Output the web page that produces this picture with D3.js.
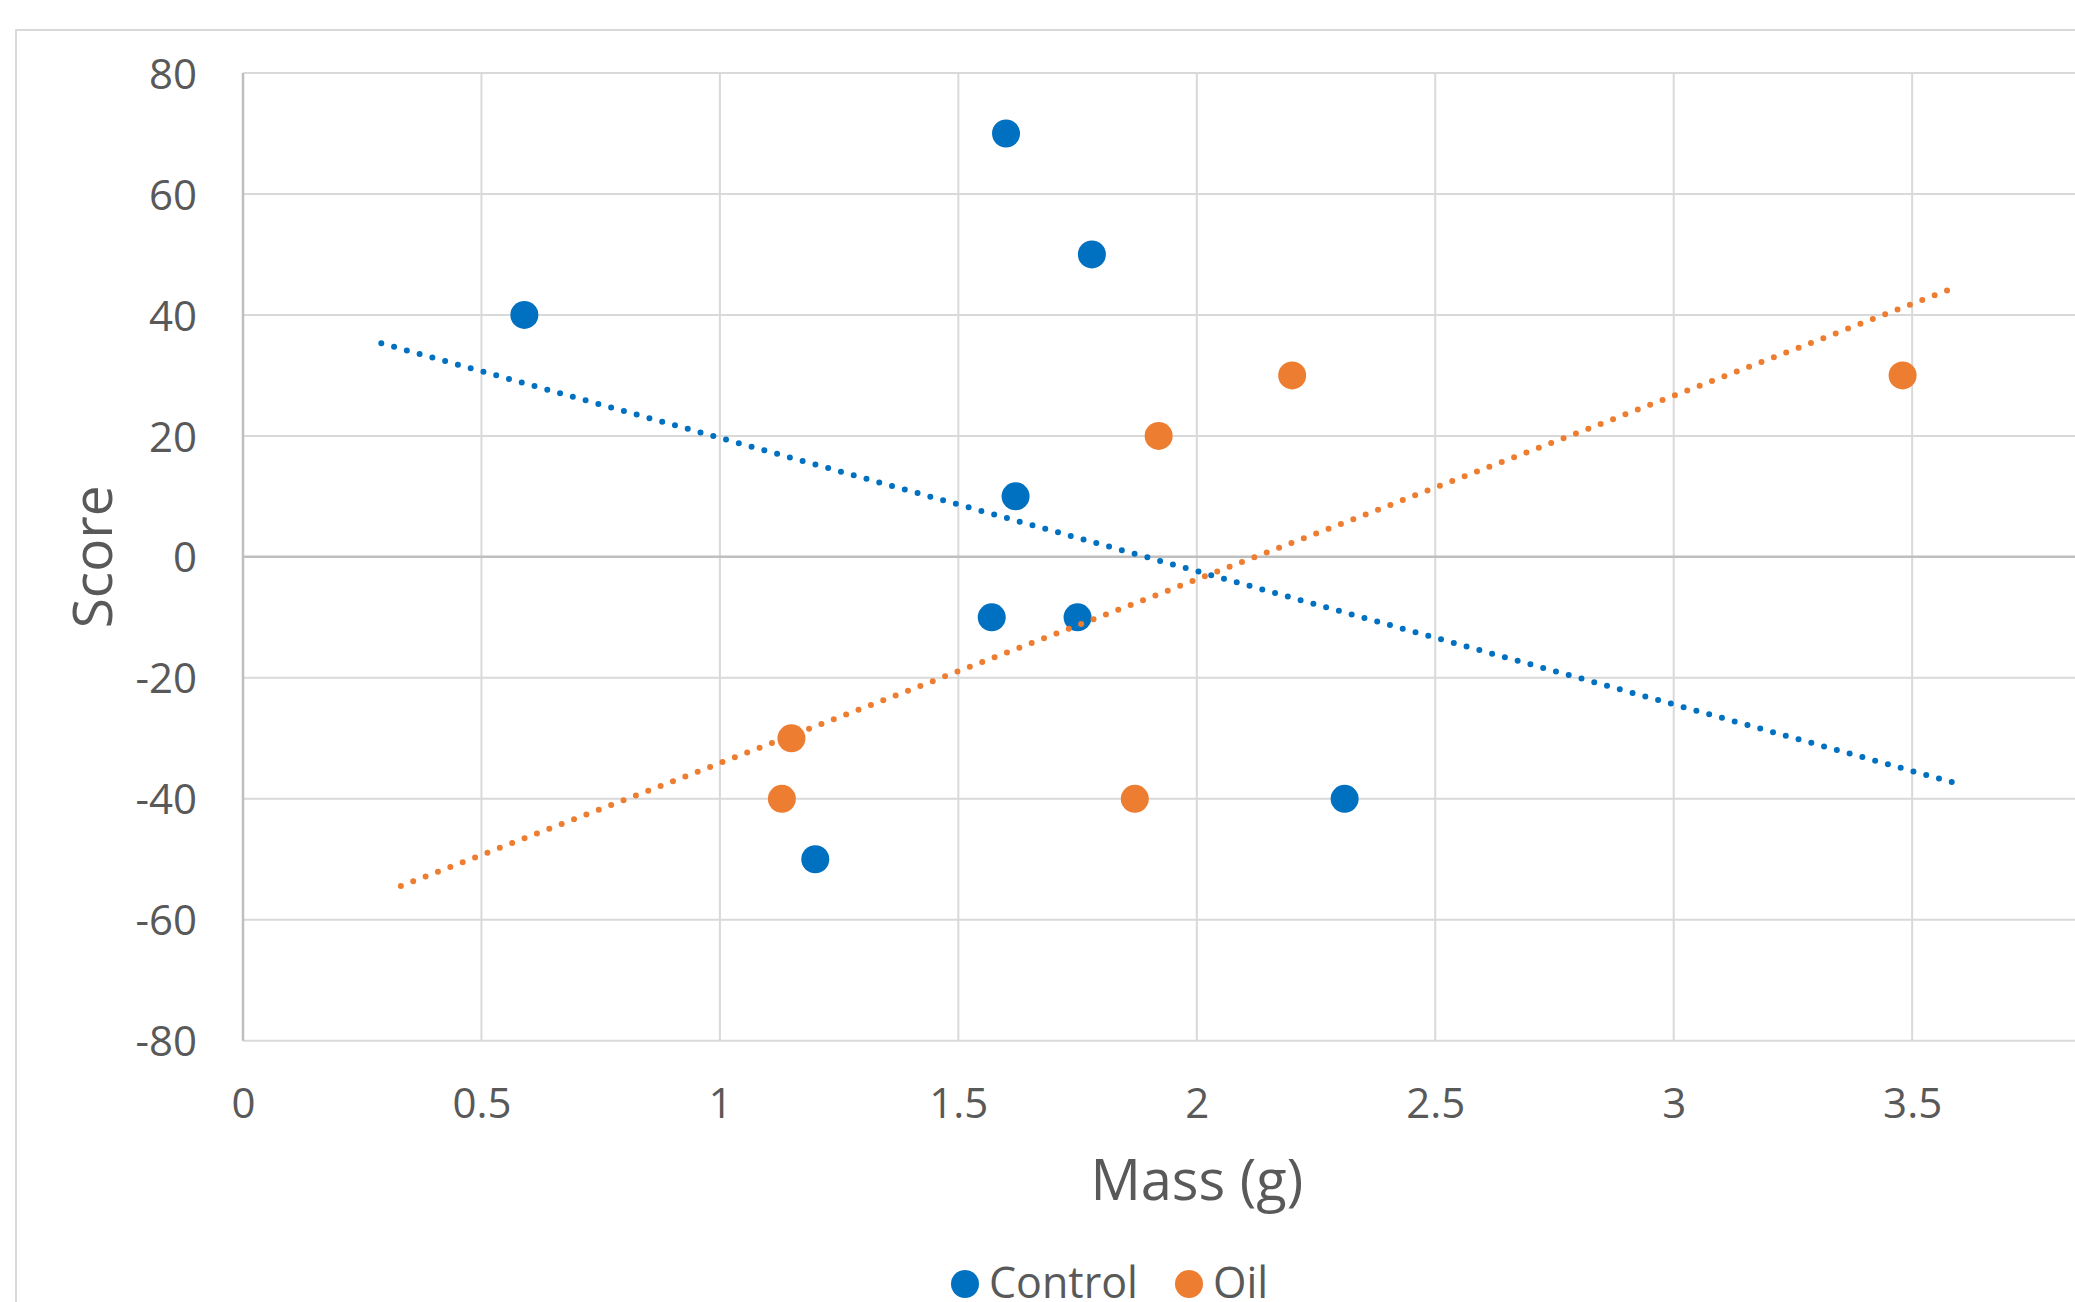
<!DOCTYPE html>
<html>
    <head>
        <meta charset="UTF-8">
        <title>Score vs Mass</title>
        <style type="text/css">
            body {
                margin: 0;
                background: #ffffff;
                font-family: "Open Sans", sans-serif;
                overflow: hidden;
            }
            .tick text {
                fill: #595959;
            }
        </style>
        <script src="https://d3js.org/d3.v7.min.js"></script>
    </head>
    <body>
        <div id="chart"></div>
        <script>
            // values
            const control_mass = [0.59, 1.60, 1.78, 1.62, 1.57, 1.75, 1.20, 2.31];
            const control_score = [40, 70, 50, 10, -10, -10, -50, -40];
            const oil_mass = [1.15, 1.13, 1.87, 1.92, 2.20, 3.48];
            const oil_score = [-30, -40, -40, 20, 30, 30];

            const series_names = ["Control", "Oil"];
            const series_colors = ["#0070c0", "#ed7d31"];
            // where each trend line starts and ends (in g)
            const trend_span = [[0.29, 3.588], [0.331, 3.578]];

            // x axis runs to 4 but the 4 falls past the right edge of the picture
            const x_ticks = [0, 0.5, 1, 1.5, 2, 2.5, 3, 3.5];
            const y_ticks = [-80, -60, -40, -20, 0, 20, 40, 60, 80];

            const width = 2075;
            const height = 1302;
            const plot = { left: 243, top: 73, right: 2150.6, bottom: 1040.7 };

            const svg = d3.select("#chart")
                .append("svg")
                .attr("width", width)
                .attr("height", height);

            // chart frame, cut off at right and bottom like the reference
            svg.append("rect")
                .attr("x", 16).attr("y", 30)
                .attr("width", width + 50).attr("height", height + 50)
                .attr("fill", "none")
                .attr("stroke", "#d9d9d9")
                .attr("stroke-width", 2);

            const x = d3.scaleLinear().domain([0, 4]).range([plot.left, plot.right]);
            const y = d3.scaleLinear().domain([-80, 80]).range([plot.bottom, plot.top]);

            // grid
            svg.append("g").selectAll("line")
                .data(x_ticks.filter(d => d > 0))
                .join("line")
                .attr("x1", d => x(d)).attr("x2", d => x(d))
                .attr("y1", plot.top).attr("y2", plot.bottom)
                .attr("stroke", "#d9d9d9").attr("stroke-width", 2);
            svg.append("g").selectAll("line")
                .data(y_ticks.filter(d => d !== 0))
                .join("line")
                .attr("x1", plot.left).attr("x2", plot.right)
                .attr("y1", d => y(d)).attr("y2", d => y(d))
                .attr("stroke", "#d9d9d9").attr("stroke-width", 2);

            // axis lines
            svg.append("line")
                .attr("x1", plot.left).attr("x2", plot.right)
                .attr("y1", y(0)).attr("y2", y(0))
                .attr("stroke", "#bfbfbf").attr("stroke-width", 2.5);
            svg.append("line")
                .attr("x1", x(0)).attr("x2", x(0))
                .attr("y1", plot.top).attr("y2", plot.bottom)
                .attr("stroke", "#bfbfbf").attr("stroke-width", 2.5);

            // plain hyphen for negatives, like the reference
            const fmt = d => String(d);

            // tick labels through d3 axes, without their lines
            const x_axis = d3.axisBottom(x).tickValues(x_ticks).tickSize(0).tickPadding(0)
                .tickFormat(fmt);
            const gx = svg.append("g")
                .attr("transform", `translate(0, ${plot.bottom})`)
                .call(x_axis);
            gx.select(".domain").remove();
            gx.selectAll("text")
                .attr("y", 77).attr("dy", null)
                .attr("font-size", 42)
                .attr("font-family", "Open Sans");

            const y_axis = d3.axisLeft(y).tickValues(y_ticks).tickSize(0).tickPadding(46)
                .tickFormat(fmt);
            const gy = svg.append("g")
                .attr("transform", `translate(${plot.left}, 0)`)
                .call(y_axis);
            gy.select(".domain").remove();
            gy.selectAll("text")
                .attr("dy", "0.36em")
                .attr("font-size", 42)
                .attr("font-family", "Open Sans");

            // axis titles
            svg.append("text")
                .attr("x", (plot.left + plot.right) / 2)
                .attr("y", 1200)
                .attr("text-anchor", "middle")
                .attr("font-size", 56)
                .attr("fill", "#595959")
                .text("Mass (g)");
            svg.append("text")
                .attr("transform", `translate(112, ${y(0)}) rotate(-90)`)
                .attr("text-anchor", "middle")
                .attr("font-size", 55)
                .attr("fill", "#595959")
                .text("Score");

            const series = [
                { xs: control_mass, ys: control_score },
                { xs: oil_mass, ys: oil_score }
            ];

            // markers
            series.forEach((s, i) => {
                svg.append("g").selectAll("circle")
                    .data(s.xs.map((v, j) => [v, s.ys[j]]))
                    .join("circle")
                    .attr("cx", d => x(d[0]))
                    .attr("cy", d => y(d[1]))
                    .attr("r", 14)
                    .attr("fill", series_colors[i]);
            });

            // least squares trend lines
            function fit (xs, ys) {
                const mx = d3.mean(xs), my = d3.mean(ys);
                const sxy = d3.sum(xs, (v, j) => (v - mx) * (ys[j] - my));
                const sxx = d3.sum(xs, v => (v - mx) * (v - mx));
                const slope = sxy / sxx;
                return v => my + slope * (v - mx);
            }

            series.forEach((s, i) => {
                const f = fit(s.xs, s.ys);
                const line = d3.line().x(d => x(d)).y(d => y(f(d)));
                const path = svg.append("path")
                    .attr("d", line(trend_span[i]))
                    .attr("fill", "none")
                    .attr("stroke", series_colors[i])
                    .attr("stroke-width", 6)
                    .attr("stroke-linecap", "round");
                // space the dots so one lands on each end (a hair short so the last one is kept)
                const len = path.node().getTotalLength();
                const gap = len / Math.round(len / 13.3) - 0.02;
                path.attr("stroke-dasharray", `0 ${gap}`);
            });

            // legend
            const legend_x = [965, 1189];
            series_names.forEach((name, i) => {
                svg.append("circle")
                    .attr("cx", legend_x[i]).attr("cy", 1284)
                    .attr("r", 14)
                    .attr("fill", series_colors[i]);
                svg.append("text")
                    .attr("x", legend_x[i] + 24).attr("y", 1298)
                    .attr("font-size", 43)
                    .attr("fill", "#595959")
                    .text(name);
            });
        </script>
    </body>
</html>
